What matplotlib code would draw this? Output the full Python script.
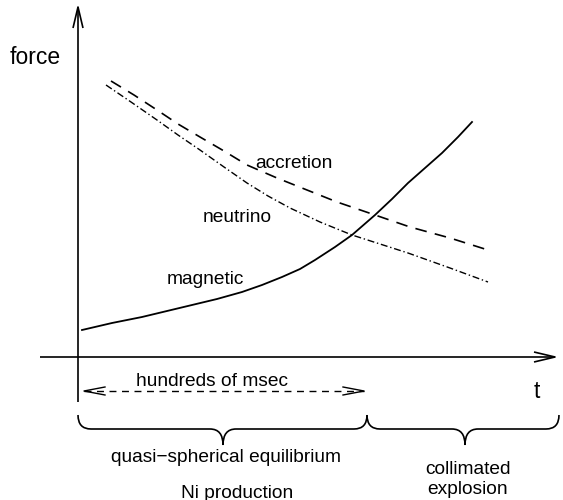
import numpy as np
import matplotlib.pyplot as plt
from matplotlib.path import Path
from matplotlib.patches import PathPatch

plt.rcParams['font.family'] = ['Liberation Sans', 'DejaVu Sans']

# curves (picture units, y grows downwards)
mag_x = [82, 112, 142, 167, 192, 217, 242, 262, 282, 300, 315, 335, 352, 375, 392, 408, 425, 442, 458, 472]
mag_y = [330, 323, 317, 311, 305, 299, 292, 285, 277, 269, 260, 247, 235, 215, 199, 183, 168, 153, 137, 122]
acc_x = [111, 134, 157, 178, 200, 224, 247, 277, 307, 337, 375, 410, 450, 488]
acc_y = [81, 95, 110, 124, 137, 151, 165, 178, 190, 202, 215, 227, 238, 250]
neu_x = [106, 131, 157, 178, 200, 224, 247, 268, 290, 320, 352, 380, 408, 450, 488]
neu_y = [85, 102, 120, 135, 150, 167, 183, 196, 208, 222, 235, 244, 253, 268, 282]

fig = plt.figure(figsize=(5.63, 5), dpi=100)
ax = fig.add_axes([0, 0, 1, 1])
ax.set_xlim(0, 563)
ax.set_ylim(500, 0)
ax.axis('off')

k = dict(color='black', lw=1.2, solid_capstyle='butt')

# axes with open arrowheads
ax.plot([78, 78], [402, 7], **k)
ax.plot([73, 78, 83], [28, 7, 28], **k)
ax.plot([40, 555], [357, 357], **k)
ax.plot([534, 555, 534], [352, 357, 362], **k)

ax.plot(mag_x, mag_y, color='black', lw=1.3)
ax.plot(acc_x, acc_y, color='black', lw=1.2, dashes=(7, 5))
ax.plot(neu_x, neu_y, color='black', lw=1.0, dashes=(5, 2, 1, 2))

fs = 13.8
ax.text(10, 57, 'force', fontsize=16.5, va='center', ha='left')
ax.text(537, 392, 't', fontsize=16.5, va='center', ha='center')
ax.text(255, 163, 'accretion', fontsize=fs, va='center', ha='left')
ax.text(203, 217, 'neutrino', fontsize=fs, va='center', ha='left')
ax.text(167, 280, 'magnetic', fontsize=fs, va='center', ha='left')

# dashed double arrow
ax.plot([84, 364], [391, 391], color='black', lw=1.0, dashes=(5, 4))
ax.plot([105, 84, 105], [387, 391, 395], color='black', lw=1.0)
ax.plot([343, 364, 343], [387, 391, 395], color='black', lw=1.0)
ax.text(212, 382, 'hundreds of msec', fontsize=fs, va='center', ha='center')


def brace(x0, x1, xm, y0=415, ym=429, y1=445, r=13):
    verts = [(x0, y0), (x0, ym), (x0 + r, ym),
             (xm - r, ym), (xm, ym), (xm, y1),
             (xm, ym), (xm + r, ym),
             (x1 - r, ym), (x1, ym), (x1, y0)]
    codes = [Path.MOVETO, Path.CURVE3, Path.CURVE3,
             Path.LINETO, Path.CURVE3, Path.CURVE3,
             Path.CURVE3, Path.CURVE3,
             Path.LINETO, Path.CURVE3, Path.CURVE3]
    ax.add_patch(PathPatch(Path(verts, codes), fill=False, lw=1.2, ec='black'))


brace(78, 367, 223)
brace(367, 559, 465)

ax.text(226, 457, 'quasi\u2212spherical equilibrium', fontsize=fs, va='center', ha='center')
ax.text(237, 493, 'Ni production', fontsize=fs, va='center', ha='center')
ax.text(468, 470, 'collimated', fontsize=fs, va='center', ha='center')
ax.text(468, 489, 'explosion', fontsize=fs, va='center', ha='center')

plt.savefig('out.png', dpi=100)
